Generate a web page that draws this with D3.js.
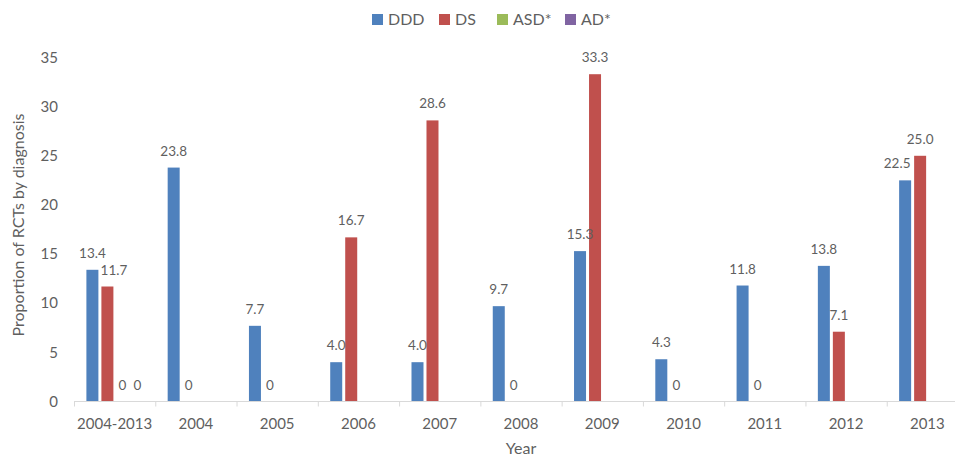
<!DOCTYPE html>
<html>
<head>
<meta charset="utf-8">
<script src="https://cdn.jsdelivr.net/npm/d3@7"></script>
<style>
  html, body { margin: 0; padding: 0; background: #fff; }
  svg { display: block; font-family: Lato, "Open Sans", sans-serif; }
</style>
</head>
<body>
<svg id="chart" width="955" height="458"></svg>
<script>
// Proportion of RCTs by diagnosis, per year
const years = ["2004-2013", "2004", "2005", "2006", "2007", "2008", "2009", "2010", "2011", "2012", "2013"];
const seriesNames = ["DDD", "DS", "ASD*", "AD*"];
const seriesColors = ["#4F81BD", "#C0504D", "#9BBB59", "#8064A2"];
const dddValues = [13.4, 23.8, 7.7, 4.0, 4.0, 9.7, 15.3, 4.3, 11.8, 13.8, 22.5];
const dsValues  = [11.7, 0, 0, 16.7, 28.6, 0, 33.3, 0, 0, 7.1, 25.0];
const asdValues = [0, null, null, null, null, null, null, null, null, null, null];
const adValues  = [0, null, null, null, null, null, null, null, null, null, null];
const yTicks = [0, 5, 10, 15, 20, 25, 30, 35];

const allValues = [dddValues, dsValues, asdValues, adValues];
const textColor = "#5f5f5f";

const svg = d3.select("#chart");

const x = d3.scaleBand().domain(years).range([74, 968]).paddingInner(0).paddingOuter(0);
const xInner = d3.scaleBand().domain(seriesNames).range([12.4, 69.4]).paddingInner(0.2).paddingOuter(0);
const y = d3.scaleLinear().domain([0, 35]).range([401.5, 57.5]);

// Bars
const rows = [];
years.forEach((yr, i) => {
  seriesNames.forEach((s, j) => {
    const v = allValues[j][i];
    if (v !== null) rows.push({ year: yr, series: s, value: v, color: seriesColors[j] });
  });
});

svg.append("g").selectAll("rect")
  .data(rows)
  .join("rect")
  .attr("x", d => x(d.year) + xInner(d.series))
  .attr("y", d => y(d.value))
  .attr("width", xInner.bandwidth())
  .attr("height", d => y(0) - y(d.value))
  .attr("fill", d => d.color);

// Value labels (a couple nudged sideways to avoid crowding)
const labelNudge = { "2004-2013|DS": 6.5, "2013|DDD": -8 };
const fmt = v => (v === 0 ? "0" : d3.format(".1f")(v));
svg.append("g").selectAll("text")
  .data(rows)
  .join("text")
  .attr("x", d => x(d.year) + xInner(d.series) + xInner.bandwidth() / 2 + (labelNudge[d.year + "|" + d.series] || 0))
  .attr("y", d => y(d.value) - 12)
  .attr("text-anchor", "middle")
  .attr("font-size", "13.5px")
  .attr("fill", textColor)
  .text(d => fmt(d.value));

// X axis
const xAxis = svg.append("g").attr("transform", "translate(0,401.5)");
xAxis.append("line")
  .attr("x1", 74).attr("x2", 968)
  .attr("stroke", "#D9D9D9").attr("stroke-width", 1);
xAxis.selectAll("line.tick")
  .data(years.concat(["end"]))
  .join("line")
  .attr("class", "tick")
  .attr("x1", (d, i) => 74 + i * x.step() + 0.5)
  .attr("x2", (d, i) => 74 + i * x.step() + 0.5)
  .attr("y1", 0).attr("y2", 5)
  .attr("stroke", "#D9D9D9");
xAxis.selectAll("text")
  .data(years)
  .join("text")
  .attr("x", d => x(d) + x.bandwidth() / 2)
  .attr("y", 27.5)
  .attr("text-anchor", "middle")
  .attr("font-size", "15px")
  .attr("fill", textColor)
  .text(d => d);

// Y axis labels
svg.append("g").selectAll("text")
  .data(yTicks)
  .join("text")
  .attr("x", 58)
  .attr("y", d => y(d))
  .attr("dy", "0.35em")
  .attr("text-anchor", "end")
  .attr("font-size", "15px")
  .attr("fill", textColor)
  .text(d => d);

// Axis titles
svg.append("text")
  .attr("x", 521)
  .attr("y", 454)
  .attr("text-anchor", "middle")
  .attr("font-size", "16px")
  .attr("fill", textColor)
  .text("Year");

svg.append("text")
  .attr("transform", "translate(24,225) rotate(-90)")
  .attr("text-anchor", "middle")
  .attr("font-size", "16px")
  .attr("fill", textColor)
  .text("Proportion of RCTs by diagnosis");

// Legend
const legendX = [372, 439, 497, 565];
const legend = svg.append("g");
seriesNames.forEach((s, j) => {
  legend.append("rect")
    .attr("x", legendX[j]).attr("y", 14)
    .attr("width", 11).attr("height", 11)
    .attr("fill", seriesColors[j]);
  legend.append("text")
    .attr("x", legendX[j] + 16).attr("y", 25)
    .attr("font-size", "16px")
    .attr("fill", textColor)
    .text(s);
});
</script>
</body>
</html>
